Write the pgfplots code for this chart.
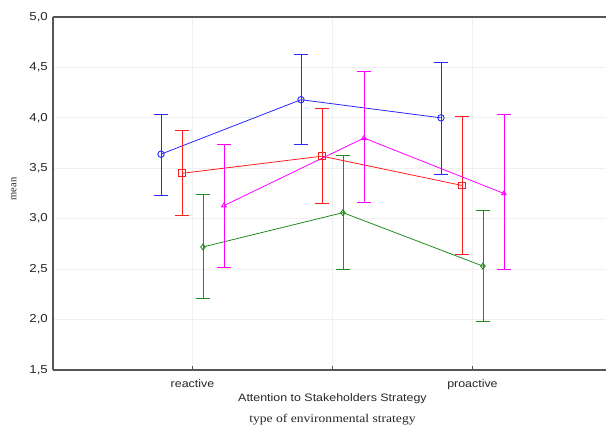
\documentclass[border=0pt]{standalone}
\usepackage{fontspec}
\setmainfont{Liberation Sans}
\newfontfamily\seriffont{Liberation Serif}
\usepackage{pgfplots}
\pgfplotsset{compat=1.18}
\definecolor{sblue}{RGB}{40,40,255}
\definecolor{sred}{RGB}{255,30,30}
\definecolor{sgreen}{RGB}{30,140,30}
\definecolor{smag}{RGB}{255,0,255}
\definecolor{axgray}{RGB}{85,85,85}
\begin{document}
\begin{tikzpicture}
\begin{axis}[
  scale only axis, width=553pt, height=353pt,
  xmin=0.0036, xmax=3.954, ymin=1.5, ymax=5,
  clip=false,
  axis x line*=bottom, axis y line*=left,
  axis line style={axgray, line width=1.2pt},
  ytick={1.5,2,2.5,3,3.5,4,4.5,5},
  xtick={1,2,3}, xticklabels={reactive,,proactive},
  xmajorgrids, ymajorgrids,
  grid style={gray!12, line width=0.8pt},
  tick align=inside,
  major tick length=3.5pt,
  tick style={axgray, line width=0.7pt},
  ytick style={draw=none},
  tick label style={font=\fontsize{10.8}{12}\selectfont, text=black!85, xscale=1.15},
  xticklabel style={yshift=-6pt},
  yticklabel style={xshift=-1pt, font=\fontsize{11.5}{12}\selectfont, /pgf/number format/.cd, fixed, fixed zerofill, precision=1, use comma, assume math mode=true},
  xlabel={Attention to Stakeholders Strategy},
  every axis x label/.style={at={(axis cs:2,1.5)}, anchor=center, yshift=-29pt, font=\fontsize{10.8}{12}\selectfont, text=black!85, xscale=1.15},
  error bars/y dir=both, error bars/y explicit,
  error bars/error mark options={rotate=90, mark size=7pt, line width=0.9pt},
  error bars/error bar style={line width=0.9pt},
]
\addplot[sblue, line width=0.8pt, mark=o, mark size=3.2pt, mark options={line width=0.9pt}] coordinates {
  (0.775,3.64) += (0,0.39) -= (0,0.41)
  (1.775,4.18) += (0,0.45) -= (0,0.44)
  (2.775,4.00) += (0,0.55) -= (0,0.56)
};
\addplot[sred, line width=0.8pt, mark=square, mark size=3.4pt, mark options={line width=0.9pt}] coordinates {
  (0.925,3.45) += (0,0.43) -= (0,0.42)
  (1.925,3.62) += (0,0.47) -= (0,0.47)
  (2.925,3.33) += (0,0.68) -= (0,0.68)
};
\addplot[sgreen, line width=0.8pt, mark=diamond, mark size=3pt, mark options={line width=0.9pt}] coordinates {
  (1.075,2.72) += (0,0.52) -= (0,0.51)
  (2.075,3.06) += (0,0.57) -= (0,0.56)
  (3.075,2.53) += (0,0.55) -= (0,0.55)
};
\addplot[smag, line width=0.8pt, mark=triangle, mark size=2.6pt, mark options={line width=0.9pt}] coordinates {
  (1.225,3.13) += (0,0.61) -= (0,0.61)
  (2.225,3.80) += (0,0.66) -= (0,0.64)
  (3.225,3.25) += (0,0.78) -= (0,0.75)
};
\draw[axgray, line width=1.2pt] (rel axis cs:0,1) -- (rel axis cs:1,1);
\coordinate (bl) at (rel axis cs:0,0);
\coordinate (ml) at (rel axis cs:0,0.513);
\node[font=\seriffont\fontsize{11.8}{13}\selectfont, anchor=center, xscale=1.15, text=black!85] at (axis cs:2,1.5) [yshift=-50pt] {type of environmental strategy};
\end{axis}
\node[font=\seriffont\fontsize{10.5}{12}\selectfont, anchor=center, text=black!85] at ([xshift=-39pt]ml) {\rotatebox{90}{mean}};
\pgfresetboundingbox
\path (bl) ++(-53pt,-60pt) rectangle ++(606pt,430pt);
\end{tikzpicture}
\end{document}
